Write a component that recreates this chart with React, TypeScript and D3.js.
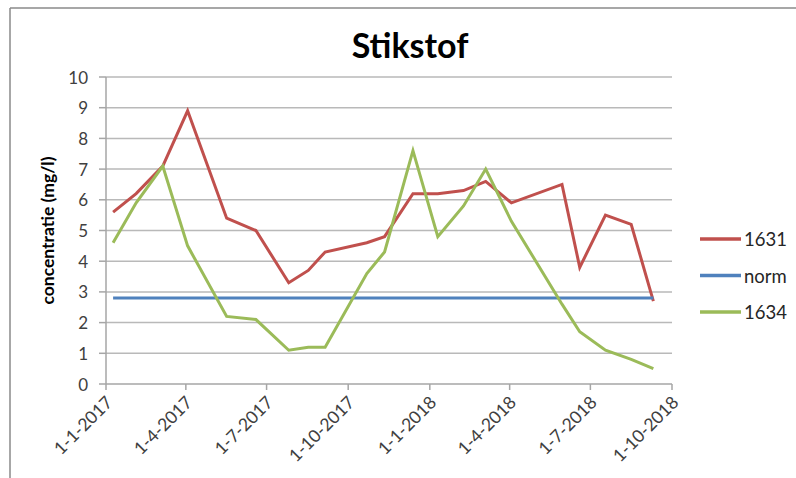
import { FC, useMemo } from "react";
import * as d3 from "d3";

const WIDTH = 796;
const HEIGHT = 478;
const MARGIN = { top: 77, right: 124, bottom: 94, left: 106 };

// sample dates (shared by both measuring points)
const dates = [
  "2017-01-09", "2017-02-04", "2017-03-06", "2017-04-03", "2017-05-17",
  "2017-06-19", "2017-07-26", "2017-08-17", "2017-09-05", "2017-10-22",
  "2017-11-11", "2017-12-13", "2018-01-10", "2018-02-08", "2018-03-05",
  "2018-04-03", "2018-05-30", "2018-06-19", "2018-07-18", "2018-08-16",
  "2018-09-10",
];
const values1631 = [5.6, 6.2, 7.1, 8.9, 5.4, 5.0, 3.3, 3.7, 4.3, 4.6, 4.8, 6.2, 6.2, 6.3, 6.6, 5.9, 6.5, 3.8, 5.5, 5.2, 2.7];
const values1634 = [4.6, 5.9, 7.1, 4.5, 2.2, 2.1, 1.1, 1.2, 1.2, 3.6, 4.3, 7.6, 4.8, 5.8, 7.0, 5.3, 2.6, 1.7, 1.1, 0.8, 0.5];
const valuesNorm = dates.map(() => 2.8);

const xTickLabels = ["1-1-2017", "1-4-2017", "1-7-2017", "1-10-2017", "1-1-2018", "1-4-2018", "1-7-2018", "1-10-2018"];
const yTicks = [0, 1, 2, 3, 4, 5, 6, 7, 8, 9, 10];

const series = [
  { name: "1631", values: values1631, color: "#c0504d" },
  { name: "norm", values: valuesNorm, color: "#4f81bd" },
  { name: "1634", values: values1634, color: "#9bbb59" },
];

const FONT = "Lato, 'Open Sans', sans-serif";
const parseDate = d3.timeParse("%Y-%m-%d");
const parseTick = d3.timeParse("%d-%m-%Y");

const App: FC = () => {
  const boundsWidth = WIDTH - MARGIN.left - MARGIN.right;
  const boundsHeight = HEIGHT - MARGIN.top - MARGIN.bottom;

  const tickDates = xTickLabels.map((t) => parseTick(t) as Date);

  const xScale = useMemo(() => {
    return d3
      .scaleTime()
      .domain([tickDates[0], tickDates[tickDates.length - 1]])
      .range([0, boundsWidth]);
  }, []);

  const yScale = useMemo(() => {
    return d3.scaleLinear().domain([0, 10]).range([boundsHeight, 0]);
  }, []);

  const lineGen = d3
    .line<[Date, number]>()
    .x((d) => xScale(d[0]))
    .y((d) => yScale(d[1]));

  const grid = yTicks.map((v, i) => (
    <g key={i}>
      {v > 0 && (
        <line x1={0} x2={boundsWidth} y1={yScale(v)} y2={yScale(v)} stroke="#b9b9b9" strokeWidth={1.5} />
      )}
      <line x1={-7} x2={0} y1={yScale(v)} y2={yScale(v)} stroke="#a6a6a6" strokeWidth={1.5} />
      <text
        x={-18}
        y={yScale(v)}
        textAnchor="end"
        dominantBaseline="central"
        fontSize={17}
        fill="#404040"
        fontFamily={FONT}
      >
        {v}
      </text>
    </g>
  ));

  const xAxis = tickDates.map((d, i) => {
    const x = xScale(d);
    return (
      <g key={i}>
        <line x1={x} x2={x} y1={boundsHeight} y2={boundsHeight + 6} stroke="#a6a6a6" strokeWidth={1.5} />
        <text
          transform={`translate(${x + 3},${boundsHeight + 15}) rotate(-45)`}
          textAnchor="end"
          dominantBaseline="central"
          fontSize={17.5}
          fill="#404040"
          fontFamily={FONT}
        >
          {xTickLabels[i]}
        </text>
      </g>
    );
  });

  const lines = series.map((s, i) => {
    const pts: [Date, number][] = dates.map((d, j) => [parseDate(d) as Date, s.values[j]]);
    return (
      <path key={i} d={lineGen(pts) || ""} fill="none" stroke={s.color} strokeWidth={3} strokeLinejoin="miter" />
    );
  });

  const legend = series.map((s, i) => (
    <g key={i} transform={`translate(700,${239 + i * 36.5})`}>
      <line x1={0} x2={41} y1={0} y2={0} stroke={s.color} strokeWidth={3.5} />
      <text x={44} y={0} dominantBaseline="central" fontSize={18.5} fill="#262626" fontFamily={FONT}>
        {s.name}
      </text>
    </g>
  ));

  return (
    <svg width={WIDTH} height={HEIGHT} style={{ position: "absolute", left: 0, top: 0, background: "#fff" }}>
      <rect x={0} y={0} width={WIDTH} height={HEIGHT} fill="#fff" />
      {/* chart frame */}
      <line x1={10} x2={WIDTH} y1={8} y2={8} stroke="#8a8a8a" strokeWidth={1.5} />
      <line x1={10} x2={10} y1={8} y2={HEIGHT} stroke="#8a8a8a" strokeWidth={1.5} />
      <text x={410} y={58} textAnchor="middle" fontSize={34} fontWeight="bold" fill="#000" fontFamily={FONT}>
        Stikstof
      </text>
      <text
        transform={`translate(47,${MARGIN.top + boundsHeight / 2}) rotate(-90)`}
        textAnchor="middle"
        dominantBaseline="central"
        fontSize={17.5}
        fontWeight="bold"
        fill="#000"
        fontFamily={FONT}
      >
        concentratie (mg/l)
      </text>
      <g transform={`translate(${MARGIN.left},${MARGIN.top})`}>
        {grid}
        <line x1={0} x2={0} y1={0} y2={boundsHeight} stroke="#a6a6a6" strokeWidth={1.5} />
        <line x1={0} x2={boundsWidth} y1={boundsHeight} y2={boundsHeight} stroke="#a6a6a6" strokeWidth={1.5} />
        {xAxis}
        {lines}
      </g>
      {legend}
    </svg>
  );
};

export default App;
